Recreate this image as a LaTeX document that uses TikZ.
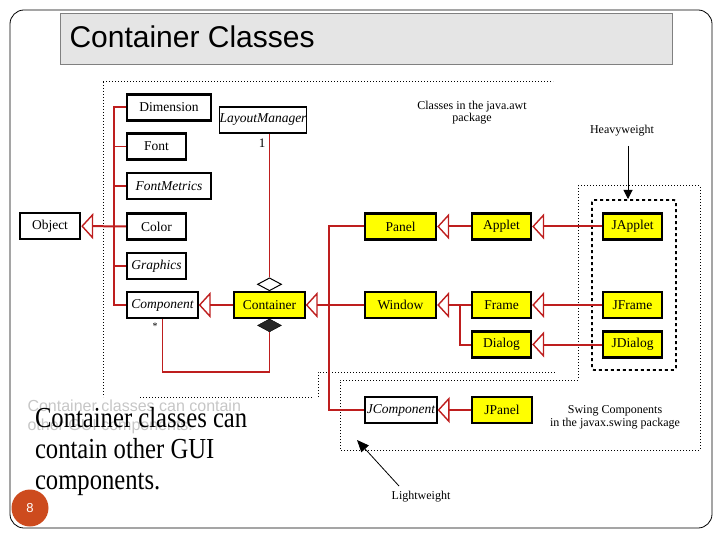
\documentclass[tikz,border=0pt]{standalone}
\usepackage{fontspec}
\setmainfont{Liberation Serif}
\newfontfamily\sansf{Liberation Sans}
\usetikzlibrary{arrows.meta,shapes.geometric}
\definecolor{umlred}{RGB}{190,30,30}
\definecolor{umlyel}{RGB}{255,255,0}
\definecolor{slidered}{RGB}{205,75,30}
\tikzset{
  cls/.style={draw,line width=2.4pt,inner sep=0,minimum height=26pt,font=\fontsize{13.5}{15}\selectfont},
  ycls/.style={cls,fill=umlyel},
  inh/.style={umlred,line width=2pt,-{Triangle[open,length=12pt,width=26pt,line width=1.4pt]}},
  rl/.style={umlred,line width=2pt},
  pkg/.style={dotted,line width=1pt},
  note/.style={font=\fontsize{12}{14}\selectfont,align=center}
}
\begin{document}
\begin{tikzpicture}[x=1pt,y=-1pt]
    \useasboundingbox (0,0) rectangle (720,540);
    % slide frame and title
    \draw[line width=0.8pt,rounded corners=14pt] (10,10) rectangle (712,528);
    \node[draw=gray,fill=gray!20,minimum width=612pt,minimum height=51pt,anchor=north west,inner sep=0] (title) at (60,13) {};
    \node[anchor=west,font=\sansf\fontsize{30}{34}\selectfont] (titletxt) at (66,37) {Container Classes};

    % package outlines
    \draw[pkg] (103,82) -- (553,82);
    \draw[pkg] (103,82) -- (103,397);
    \draw[pkg] (140,397) -- (312,397);
    \draw[pkg] (318,397) -- (318,372) -- (555,372);
    \draw[pkg] (578,186) -- (700,186) -- (700,450) -- (340,450) -- (340,380) -- (578,380) -- (578,186);
    \draw[dashed,line width=1.8pt,rounded corners=2pt] (592,200) rectangle (676,370);

    % awt classes
    \node[cls,minimum width=60pt] (object) at (50,226) {Object};
    \node[cls,minimum width=84pt] (dimension) at (169,107.5) {Dimension};
    \node[cls,minimum width=82pt,line width=1.2pt] (layout) at (263,120) {\itshape LayoutManager};
    \node[cls,minimum width=59pt] (font) at (156.5,146.5) {Font};
    \node[cls,minimum width=84pt] (metrics) at (169,186) {\itshape FontMetrics};
    \node[cls,minimum width=59pt] (color) at (156.5,226.5) {Color};
    \node[cls,minimum width=59pt] (graphics) at (156.5,266) {\itshape Graphics};
    \node[cls,minimum width=71pt,line width=1.4pt] (component) at (162.5,305) {\itshape Component};
    \node[ycls,minimum width=71pt,line width=1.4pt] (container) at (269.5,305) {Container};
    \node[ycls,minimum width=71pt] (panel) at (400.5,226.5) {Panel};
    \node[ycls,minimum width=59pt] (applet) at (501.5,226.5) {Applet};
    \node[ycls,minimum width=71pt] (window) at (400.5,305) {Window};
    \node[ycls,minimum width=59pt] (frame) at (501.5,305) {Frame};
    \node[ycls,minimum width=59pt] (dialog) at (501.5,344.5) {Dialog};

    % swing classes
    \node[ycls,minimum width=59pt] (japplet) at (632.5,226.5) {JApplet};
    \node[ycls,minimum width=59pt] (jframe) at (632.5,305) {JFrame};
    \node[ycls,minimum width=59pt] (jdialog) at (632.5,344.5) {JDialog};
    \node[cls,minimum width=72pt,line width=1.2pt] (jcomponent) at (401,410) {\itshape JComponent};
    \node[ycls,minimum width=60pt,line width=1.4pt] (jpanel) at (502,410) {JPanel};

    % inheritance
    \draw[inh] (color) -- (object);
    \draw[rl] (dimension.west) -- ++(-12,0) coordinate (spine) |- (component.west);
    \foreach \c in {font,metrics,graphics}
        \draw[rl,line width=1.2pt] (\c.west) -- (\c.west -| spine);
    \draw[inh] (container) -- (component);
    \draw[inh] (window) -- (container);
    \draw[rl] (panel.west) -- ++(-35,0) coordinate (aspine) |- (jcomponent.west);
    \draw[inh] (applet) -- (panel);
    \draw[inh] (japplet) -- (applet);
    \draw[inh] (frame) -- (window);
    \draw[rl] (dialog.west) -- ++(-11,0) |- (frame.west);
    \draw[inh] (jframe) -- (frame);
    \draw[inh] (jdialog) -- (dialog);
    \draw[inh,line width=1.2pt] (jpanel) -- (jcomponent);

    % associations
    \node[diamond,draw,line width=1pt,fill=white,inner sep=0,minimum width=24pt,minimum height=13pt,anchor=south] (agg) at (container.north) {};
    \node[diamond,draw,fill=black!85,inner sep=0,minimum width=24pt,minimum height=13pt,anchor=north] (comp) at (container.south) {};
    \draw[rl,line width=1.2pt] (agg.north) -- (agg.north |- layout.south);
    \node[font=\fontsize{13}{15}\selectfont] (one) at (262,143) {1};
    \draw[rl,line width=1.4pt] (comp.south) -- ++(0,40) -| (component.south);
    \node[font=\fontsize{10}{11}\selectfont] (many) at (155,326) {*};

    % notes
    \node[note] (awtnote) at (472,113) {Classes in the java.awt\\[-2pt]package};
    \node[note] (heavy) at (622,131) {Heavyweight};
    \draw[-{Triangle[length=9pt,width=9pt]},line width=1pt] (heavy.south) ++(6,6) -- (628,199);
    \node[note] (swingnote) at (615,417) {Swing Components\\[-1pt]in the javax.swing package};
    \node[note] (light) at (421,497) {Lightweight};
    \draw[-{Triangle[length=12pt,width=10pt]},line width=0.8pt] (light.north) ++(-22,-2) -- (357,440);

    % slide text
    \node[anchor=north west,font=\sansf\fontsize{16}{19}\selectfont,text=gray!45,align=left] (bg) at (24,396) {Container classes can contain\\other GUI components.};
    \node[anchor=north west,font=\fontsize{29}{31}\selectfont,align=left,transform shape,xscale=0.85] (body) at (32,404) {Container classes can\\contain other GUI\\components.};
    \node[circle,fill=slidered,minimum size=37pt,inner sep=0,text=white,font=\sansf\fontsize{13}{15}\selectfont] (page) at (30,508) {8};
\end{tikzpicture}
\end{document}
